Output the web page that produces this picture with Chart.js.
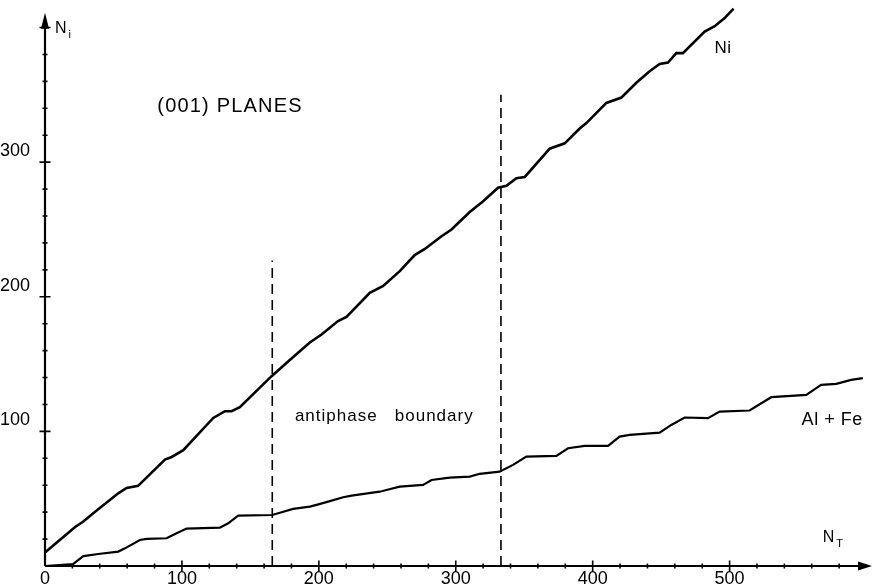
<!DOCTYPE html>
<html>
<head>
<meta charset="utf-8">
<script src="https://cdn.jsdelivr.net/npm/chart.js@4/dist/chart.umd.min.js"></script>
<style>
html,body{margin:0;padding:0;background:#fff;}
#wrap{width:875px;height:585px;}
</style>
</head>
<body>
<div id="wrap"><canvas id="c" width="875" height="585"></canvas></div>
<script>
// ---- data ----
const niX = [0, 22, 28, 35, 53.5, 59.6, 68, 87.6, 92.5, 101, 122.9, 131.4, 136.3, 142.3, 165.5, 178.8, 193.4, 202, 214, 220.2, 237.2, 247, 259.1, 270, 277.4, 289.6, 296.9, 310.2, 320, 330.9, 337, 344.3, 350.4, 368.6, 379.6, 390.5, 395.4, 410, 421, 431.9, 441.6, 448.9, 455, 461.1, 465.9, 481.8, 489.1, 496.4, 502.9];
const niY = [10, 29, 33, 39, 54, 58, 59.5, 79, 81, 86, 110, 115, 115, 118, 141, 153, 166, 172, 182, 185, 203, 208, 219, 231, 235.5, 245, 250, 263, 271, 281, 282.5, 288, 289, 310, 314, 325, 329, 344, 348, 359, 367.5, 373, 374, 381, 381, 397, 401, 407, 414];
const alX = [0, 20.7, 28, 38.9, 53.5, 58.4, 69.3, 74.2, 88.8, 96.1, 103.4, 127.7, 133.8, 141.1, 165.9, 172.8, 181.2, 193.4, 198.3, 206.8, 217.8, 223.9, 244.5, 249.4, 259.1, 276.1, 282.3, 295.6, 310.2, 317.5, 332, 341.8, 351.6, 373.5, 382, 394.2, 411.2, 419.7, 427, 448.9, 457.4, 467.2, 484.2, 492.7, 514.6, 530.4, 556, 563.3, 566.9, 577.9, 588.8, 597.3];
const alY = [0, 1.5, 7.4, 8.9, 10.7, 13.1, 19.3, 20.1, 20.6, 24.3, 27.8, 28.5, 31.7, 37.4, 37.9, 39.9, 42.4, 44.1, 45.4, 47.8, 51.1, 52.3, 55.2, 56.5, 59, 60.2, 63.9, 65.7, 66.4, 68.5, 70.1, 75.1, 81.3, 81.8, 87.5, 89.2, 89.2, 96.1, 97.4, 99.1, 104.8, 110.3, 109.8, 114.7, 115.5, 125.4, 127.1, 132.1, 134.6, 135.3, 138.3, 139.6];
const boundaryX = [166, 333];
const boundaryTop = [227, 350];
const xTickLabels = [0, 100, 200, 300, 400, 500];
const yTickLabels = [100, 200, 300];
const xAxisEnd = 604;
const yAxisEnd = 411;
const minorStep = 20;
const notes = [
  {text: '(001) PLANES', x: 82, y: 337.5, size: 20, spacing: 1.2},
  {text: 'antiphase   boundary', x: 182.5, y: 107.8, size: 17, spacing: 1},
  {text: 'Al + Fe', x: 552.6, y: 104.8, size: 18, spacing: 0.5},
  {text: 'Ni', x: 489, y: 381.4, size: 17, spacing: 0.5}
];
const axisTitles = [
  {main: 'N', sub: 'i', x: 7.3, y: 396},
  {main: 'N', sub: 'T', x: 568, y: 17.8}
];

const FONT = '"Liberation Sans", Arial, sans-serif';
const pts = (xs, ys) => xs.map((v, i) => ({x: v, y: ys[i]}));

const datasets = [
  {label: 'Ni', data: pts(niX, niY), borderWidth: 2.6},
  {label: 'Al + Fe', data: pts(alX, alY), borderWidth: 2.2}
].map(d => Object.assign(d, {borderColor: '#000', pointRadius: 0, tension: 0, fill: false}));

boundaryX.forEach((bx, i) => {
  datasets.push({label: 'boundary' + i, data: [{x: bx, y: 0}, {x: bx, y: boundaryTop[i]}],
    borderColor: '#000', borderWidth: 1.6, borderDash: [10, 6], pointRadius: 0, fill: false});
});

const decor = {
  id: 'decor',
  afterDatasetsDraw(chart) {
    const {ctx, scales: {x, y}} = chart;
    const X = v => x.getPixelForValue(v), Y = v => y.getPixelForValue(v);
    const x0 = X(0), y0 = Y(0);
    ctx.save();
    ctx.strokeStyle = '#000'; ctx.fillStyle = '#000';
    ctx.lineWidth = 2.2;
    ctx.beginPath();
    ctx.moveTo(x0, y0); ctx.lineTo(X(xAxisEnd) - 8, y0);
    ctx.moveTo(x0, y0); ctx.lineTo(x0, Y(yAxisEnd) + 10);
    ctx.stroke();
    ctx.beginPath();
    const xe = X(xAxisEnd);
    ctx.moveTo(xe, y0); ctx.lineTo(xe - 14, y0 - 4.5); ctx.lineTo(xe - 14, y0 + 4.5); ctx.closePath();
    const ye = Y(yAxisEnd);
    ctx.moveTo(x0, ye); ctx.lineTo(x0 - 4, ye + 16); ctx.lineTo(x0 + 4, ye + 16); ctx.closePath();
    ctx.fill();
    ctx.lineWidth = 1.6;
    ctx.beginPath();
    for (let v = minorStep; v < xAxisEnd - 10; v += minorStep) {
      const s = v % 100 === 0 ? 5.5 : 2.5;
      ctx.moveTo(X(v), y0 - s); ctx.lineTo(X(v), y0 + s);
    }
    for (let v = minorStep; v < yAxisEnd - 10; v += minorStep) {
      const s = v % 100 === 0 ? 5.5 : 2.5;
      ctx.moveTo(x0 - s, Y(v)); ctx.lineTo(x0 + s, Y(v));
    }
    ctx.stroke();
    ctx.textBaseline = 'alphabetic';
    ctx.textAlign = 'left';
    notes.forEach(n => {
      ctx.font = n.size + 'px ' + FONT;
      ctx.letterSpacing = n.spacing + 'px';
      ctx.fillText(n.text, X(n.x), Y(n.y));
    });
    ctx.letterSpacing = '0px';
    axisTitles.forEach(t => {
      ctx.font = '16px ' + FONT;
      ctx.fillText(t.main, X(t.x), Y(t.y));
      const w = ctx.measureText(t.main).width;
      ctx.font = '11px ' + FONT;
      ctx.fillText(t.sub, X(t.x) + w + 2, Y(t.y) + 5);
    });
    ctx.restore();
  }
};

const noPad = s => { s.paddingTop = 0; s.paddingBottom = 0; s.paddingLeft = 0; s.paddingRight = 0; };

new Chart(document.getElementById('c'), {
  type: 'line',
  data: {datasets},
  options: {
    responsive: false,
    animation: false,
    events: [],
    layout: {padding: {top: 6, right: 3, left: 0, bottom: 0}},
    plugins: {legend: {display: false}, tooltip: {enabled: false}},
    scales: {
      x: {
        type: 'linear', min: 0, max: xAxisEnd,
        grid: {display: false}, border: {display: false},
        afterBuildTicks: s => { s.ticks = xTickLabels.map(v => ({value: v})); },
        afterFit: s => { s.height = 19; noPad(s); },
        ticks: {color: '#000', font: {family: FONT, size: 18}, padding: -6, maxRotation: 0, autoSkip: false}
      },
      y: {
        type: 'linear', min: 0, max: 416,
        grid: {display: false}, border: {display: false},
        afterBuildTicks: s => { s.ticks = yTickLabels.map(v => ({value: v})); },
        afterFit: s => { s.width = 45; noPad(s); },
        ticks: {color: '#000', font: {family: FONT, size: 18}, padding: 7, labelOffset: -11, autoSkip: false}
      }
    }
  },
  plugins: [decor]
});
</script>
</body>
</html>
